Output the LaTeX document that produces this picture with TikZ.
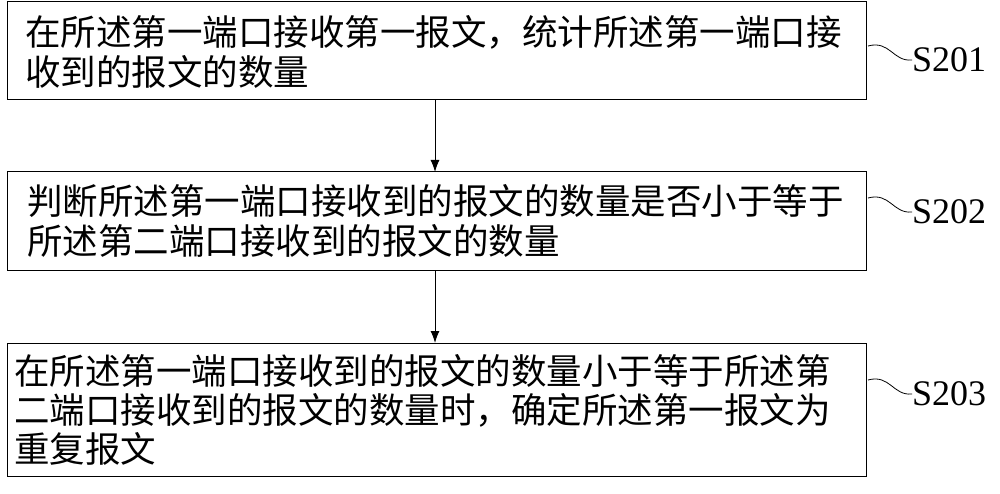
\documentclass[tikz,border=0pt]{standalone}
\usepackage{fontspec}
\setmainfont{Liberation Serif}
\newfontfamily\cjk{Noto Sans CJK SC}
\usetikzlibrary{arrows.meta}
\begin{document}
\begin{tikzpicture}[x=1pt,y=-1pt,
  boxs/.style={draw,line width=1pt},
  txt/.style={anchor=west,inner sep=0pt,font=\cjk\fontsize{35.5}{38}\selectfont},
  lab/.style={anchor=west,inner sep=0pt,font=\fontsize{36}{40}\selectfont},
  arr/.style={-{Latex[length=12pt,width=9pt]},line width=1pt}]
\useasboundingbox (0,0) rectangle (1000,494);
\draw[boxs] (7,2) rectangle (866,100);
\node[coordinate] (b1b) at (435,100) {};
\draw[boxs] (7,172) rectangle (866,270);
\node[coordinate] (b2t) at (435,172) {};
\node[coordinate] (b2b) at (435,270) {};
\draw[boxs] (7,343) rectangle (866,476);
\node[coordinate] (b3t) at (435,343) {};
\node[txt] (t1a) at (25,32) {在所述第一端口接收第一报文，统计所述第一端口接};
\node[txt] (t1b) at (25,72) {收到的报文的数量};
\node[txt] (t2a) at (27,201) {判断所述第一端口接收到的报文的数量是否小于等于};
\node[txt] (t2b) at (27,241) {所述第二端口接收到的报文的数量};
\node[txt] (t3a) at (14,371) {在所述第一端口接收到的报文的数量小于等于所述第};
\node[txt] (t3b) at (14,410) {二端口接收到的报文的数量时，确定所述第一报文为};
\node[txt] (t3c) at (14,449) {重复报文};
\draw[arr] (b1b) -- (b2t);
\draw[arr] (b2b) -- (b3t);
\node[lab] (s1) at (912,60) {S201};
\node[lab] (s2) at (912,212) {S202};
\node[lab] (s3) at (912,394) {S203};
\draw[line width=0.8pt] (868,46) .. controls (890,40) and (893,62) .. (s1.west);
\draw[line width=0.8pt] (868,198) .. controls (890,192) and (893,214) .. (s2.west);
\draw[line width=0.8pt] (868,380) .. controls (890,374) and (893,396) .. (s3.west);
\end{tikzpicture}
\end{document}
